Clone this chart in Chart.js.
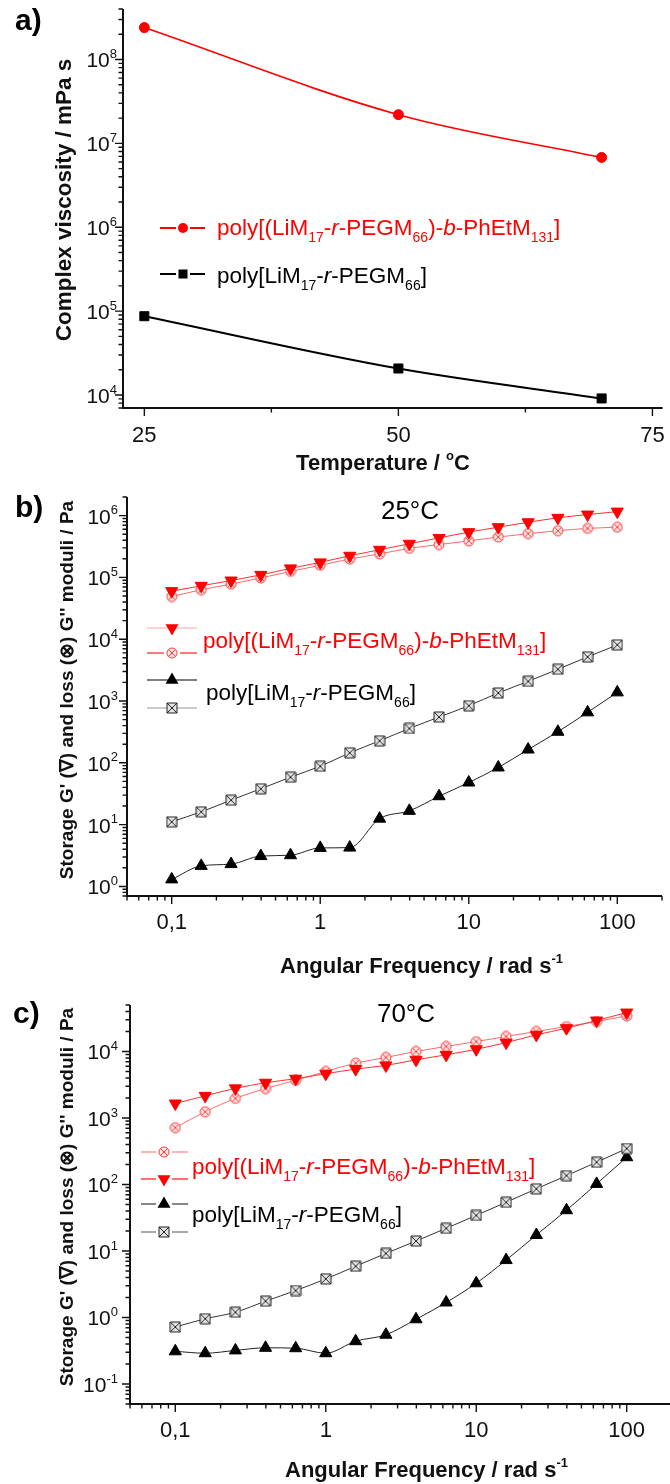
<!DOCTYPE html>
<html>
<head>
<meta charset="utf-8">
<script src="https://cdn.jsdelivr.net/npm/chart.js@4.4.1/dist/chart.umd.min.js"></script>
<style>
  html, body { margin: 0; padding: 0; background: #fff; overflow: hidden; }
  #page { position: relative; width: 670px; height: 1484px; overflow: hidden; }
  canvas { position: absolute; left: 0; }
</style>
</head>
<body>
<div id="page">
  <canvas id="chartA" width="670" height="480" style="top:0px"></canvas>
  <canvas id="chartB" width="670" height="507" style="top:478px"></canvas>
  <canvas id="chartC" width="680" height="499" style="top:985px"></canvas>
</div>
<script>
// ---- data ----
const temperature = [25, 50, 70];
const viscosityBlock = [2.4e8, 2.2e7, 6.8e6];
const viscosityRandom = [8.7e4, 2.07e4, 9.1e3];

const frequency = [0.1, 0.158, 0.251, 0.398, 0.631, 1, 1.58, 2.51, 3.98, 6.31, 10, 15.8, 25.1, 39.8, 63.1, 100];

// 25 °C
const block25Storage = [6.0e4, 7.3e4, 8.9e4, 1.1e5, 1.4e5, 1.75e5, 2.24e5, 2.8e5, 3.5e5, 4.35e5, 5.4e5, 6.5e5, 7.8e5, 9.2e5, 1.04e6, 1.16e6];
const block25Loss = [4.9e4, 6.3e4, 7.8e4, 9.8e4, 1.25e5, 1.57e5, 1.98e5, 2.4e5, 2.95e5, 3.4e5, 3.9e5, 4.5e5, 5.1e5, 5.7e5, 6.2e5, 6.5e5];
const random25Storage = [1.3, 2.15, 2.3, 3.1, 3.2, 4.2, 4.25, 12.5, 16.7, 28.8, 48, 84, 164, 318, 655, 1380];
const random25Loss = [11.1, 16.1, 24.9, 38, 58.6, 88, 145, 227, 360, 550, 840, 1350, 2080, 3260, 5170, 8100];

// 70 °C
const block70Storage = [1650, 2150, 2790, 3390, 3900, 4630, 5430, 6170, 7500, 8900, 10800, 13600, 17800, 22400, 29200, 38500];
const block70Loss = [715, 1240, 1970, 2770, 3680, 5010, 6680, 8130, 10000, 11900, 14100, 16800, 20000, 23700, 28200, 34300];
const random70Storage = [0.31, 0.29, 0.32, 0.35, 0.345, 0.29, 0.44, 0.55, 0.94, 1.68, 3.27, 7.3, 17.4, 41, 102, 257];
const random70Loss = [0.72, 0.955, 1.2, 1.76, 2.54, 3.8, 5.9, 9.2, 14.1, 21.9, 34.3, 54, 86, 136, 216, 347];

// ticks
const tempTicks = [25, 50, 75];
const tempMinorTicks = [37.5, 62.5];
const tempTickLabels = ['25', '50', '75'];
const freqTicks = [0.1, 1, 10, 100];
const freqTickLabels = ['0,1', '1', '10', '100'];
const viscosityExponents = [4, 5, 6, 7, 8];
const moduli25Exponents = [0, 1, 2, 3, 4, 5, 6];
const moduli70Exponents = [-1, 0, 1, 2, 3, 4];

// legend names (text, style)
const blockName = [['poly[(LiM'], ['17', 'sub'], ['-'], ['r', 'i'], ['-PEGM'], ['66', 'sub'], [')-'], ['b', 'i'], ['-PhEtM'], ['131', 'sub'], [']']];
const randomName = [['poly[LiM'], ['17', 'sub'], ['-'], ['r', 'i'], ['-PEGM'], ['66', 'sub'], [']']];

// ---- drawing helpers ----
const INK = '#111';
const RED = '#ff0000';
const FONT = '"Liberation Sans", Arial, sans-serif';

function partFont(mode, size, bold) {
  const small = mode === 'sub' || mode === 'sup';
  const s = small ? Math.round(size * 0.6) : size;
  return (mode === 'i' ? 'italic ' : '') + (bold ? 'bold ' : '') + s + 'px ' + FONT;
}

function drawRich(ctx, parts, x, y, size, color, bold, align) {
  ctx.save();
  ctx.fillStyle = color;
  ctx.textBaseline = 'alphabetic';
  ctx.textAlign = 'left';
  let total = 0;
  parts.forEach(p => { ctx.font = partFont(p[1], size, bold); total += ctx.measureText(p[0]).width; });
  let cx = align === 'center' ? x - total / 2 : align === 'right' ? x - total : x;
  parts.forEach(p => {
    ctx.font = partFont(p[1], size, bold);
    const dy = p[1] === 'sub' ? size * 0.3 : p[1] === 'sup' ? -size * 0.45 : 0;
    ctx.fillText(p[0], cx, y + dy);
    cx += ctx.measureText(p[0]).width;
  });
  ctx.restore();
}

function crossMarker(shape, size, stroke, fill) {
  const c = document.createElement('canvas');
  c.width = c.height = size;
  const g = c.getContext('2d');
  const m = size / 2, h = size / 2 - 1;
  g.strokeStyle = stroke; g.fillStyle = fill; g.lineWidth = 1;
  g.beginPath();
  if (shape === 'circle') g.arc(m, m, h, 0, Math.PI * 2);
  else g.rect(m - h, m - h, 2 * h, 2 * h);
  g.fill(); g.stroke();
  const d = shape === 'circle' ? h * 0.72 : h;
  g.beginPath();
  g.moveTo(m - d, m - d); g.lineTo(m + d, m + d);
  g.moveTo(m + d, m - d); g.lineTo(m - d, m + d);
  g.stroke();
  return c;
}

const redCircleX = crossMarker('circle', 12, '#ff3a3a', '#ffe4e4');
const blackSquareX = crossMarker('rect', 12, '#222', '#e4e4e4');

function logTickList(min, max) {
  const out = [];
  for (let d = Math.floor(Math.log10(min)); d <= Math.ceil(Math.log10(max)); d++) {
    for (let k = 1; k <= 9; k++) {
      const v = k * Math.pow(10, d);
      if (v >= min * 0.999 && v <= max * 1.001) out.push({ v, major: k === 1 });
    }
  }
  return out;
}

function drawLegendMarker(ctx, m, x, y) {
  ctx.save();
  ctx.fillStyle = m.color; ctx.strokeStyle = m.color; ctx.lineWidth = 1;
  if (m.kind === 'image') {
    ctx.drawImage(m.img, x - m.img.width / 2, y - m.img.height / 2);
  } else if (m.kind === 'circle') {
    ctx.beginPath(); ctx.arc(x, y, m.r, 0, Math.PI * 2); ctx.fill();
  } else if (m.kind === 'rect') {
    ctx.fillRect(x - m.r, y - m.r, 2 * m.r, 2 * m.r);
  } else {
    const s = m.kind === 'triDown' ? -1 : 1;
    const r = m.r;
    ctx.beginPath();
    ctx.moveTo(x, y - s * r);
    ctx.lineTo(x + r * 0.866, y + s * r / 2);
    ctx.lineTo(x - r * 0.866, y + s * r / 2);
    ctx.closePath(); ctx.fill();
  }
  ctx.restore();
}

// per-panel decorations: axes, tick labels, titles, legend (positions in page px)
function decorations(p) {
  return {
    id: 'decor',
    afterDraw(chart) {
      const { ctx, chartArea: a } = chart;
      const sx = chart.scales.x, sy = chart.scales.y;
      const Y = v => v - p.top;
      ctx.save();
      ctx.strokeStyle = INK;
      ctx.lineWidth = 2;
      ctx.beginPath();
      ctx.moveTo(a.left, a.top);
      ctx.lineTo(a.left, a.bottom);
      ctx.lineTo(a.right, a.bottom);
      ctx.stroke();
      ctx.lineWidth = 1.4;
      ctx.beginPath();
      p.yTicks.forEach(t => {
        const py = sy.getPixelForValue(t.v);
        ctx.moveTo(a.left, py); ctx.lineTo(a.left - (t.major ? 8 : 4.5), py);
      });
      p.xTicks.forEach(t => {
        const px = sx.getPixelForValue(t.v);
        ctx.moveTo(px, a.bottom); ctx.lineTo(px, a.bottom + (t.major ? 8 : 4.5));
      });
      ctx.stroke();

      p.yExponents.forEach(e => {
        const py = sy.getPixelForValue(Math.pow(10, e));
        drawRich(ctx, [['10'], [String(e), 'sup']], p.yLabelRight, py + 8, 21, INK, false, 'right');
      });
      p.xLabels.forEach((lab, i) => {
        drawRich(ctx, [[lab]], sx.getPixelForValue(p.xLabelValues[i]), Y(p.xLabelBase), 22, INK, false, 'center');
      });

      // axis titles
      ctx.save();
      ctx.translate(p.yTitle.x, Y(p.yTitle.y));
      ctx.rotate(-Math.PI / 2);
      drawRich(ctx, p.yTitle.parts, 0, 0, p.yTitle.size, INK, true, 'center');
      ctx.restore();
      drawRich(ctx, p.xTitle.parts, p.xTitle.x, Y(p.xTitle.y), 22, INK, true, p.xTitle.align);

      drawRich(ctx, [[p.label]], p.labelX, Y(p.labelY), 30, '#000', true, 'left');
      if (p.heading) drawRich(ctx, [[p.heading.text]], p.heading.x, Y(p.heading.y), 26, '#000', false, 'center');

      // legend
      p.legendRows.forEach(r => {
        const yy = Y(r.y);
        ctx.strokeStyle = r.line; ctx.lineWidth = r.width;
        ctx.beginPath();
        ctx.moveTo(p.legendX0, yy); ctx.lineTo(p.legendMid - r.gap, yy);
        ctx.moveTo(p.legendMid + r.gap, yy); ctx.lineTo(p.legendX1, yy);
        ctx.stroke();
        drawLegendMarker(ctx, r.marker, p.legendMid, yy);
      });
      p.legendTexts.forEach(t => drawRich(ctx, t.parts, t.x, Y(t.y), 22.5, t.color, false, 'left'));
      ctx.restore();
    }
  };
}

function series(xs, ys, color, width, extra) {
  return Object.assign({
    data: xs.map((x, i) => ({ x, y: ys[i] })),
    borderColor: color,
    borderWidth: width,
    fill: false,
    cubicInterpolationMode: 'monotone',
    pointBorderWidth: 1
  }, extra);
}

function baseOptions(xType, xMin, xMax, yMin, yMax, pad) {
  return {
    responsive: false,
    animation: false,
    devicePixelRatio: 1,
    layout: { padding: pad },
    plugins: { legend: { display: false }, tooltip: { enabled: false } },
    scales: {
      x: { type: xType, min: xMin, max: xMax, display: false },
      y: { type: 'logarithmic', min: yMin, max: yMax, display: false }
    }
  };
}

// ---- panel a ----
new Chart(document.getElementById('chartA'), {
  type: 'line',
  data: {
    datasets: [
      series(temperature, viscosityBlock, RED, 1.6, { pointStyle: 'circle', pointRadius: 5, backgroundColor: RED, pointBorderColor: RED }),
      series(temperature, viscosityRandom, '#000', 2, { pointStyle: 'rect', pointRadius: 6.4, backgroundColor: '#000', pointBorderColor: '#000' })
    ]
  },
  options: baseOptions('linear', 22.9, 76, 7e3, 4e8, { left: 123, right: 7, top: 9, bottom: 72 }),
  plugins: [decorations({
    top: 0,
    yTicks: logTickList(7e3, 4e8),
    xTicks: tempTicks.map(v => ({ v, major: true })).concat(tempMinorTicks.map(v => ({ v, major: false }))),
    yExponents: viscosityExponents, yLabelRight: 117,
    xLabels: tempTickLabels, xLabelValues: tempTicks, xLabelBase: 442,
    yTitle: { parts: [['Complex viscosity / mPa s']], x: 71, y: 200, size: 22.5 },
    xTitle: { parts: [['Temperature / '], ['o', 'sup'], ['C']], x: 383, y: 470, align: 'center' },
    label: 'a)', labelX: 15, labelY: 30,
    legendX0: 160, legendX1: 205, legendMid: 183,
    legendRows: [
      { y: 228, line: RED, width: 2, gap: 7, marker: { kind: 'circle', color: RED, r: 5 } },
      { y: 274, line: '#000', width: 2, gap: 7, marker: { kind: 'rect', color: '#000', r: 4.5 } }
    ],
    legendTexts: [
      { parts: blockName, x: 217, y: 235, color: RED },
      { parts: randomName, x: 217, y: 283, color: '#000' }
    ]
  })]
});

// ---- panel b ----
new Chart(document.getElementById('chartB'), {
  type: 'line',
  data: {
    datasets: [
      series(frequency, block25Storage, '#ff3030', 1, { pointStyle: 'triangle', pointRotation: 180, pointRadius: 7, backgroundColor: RED, pointBorderColor: RED }),
      series(frequency, block25Loss, '#ff6a6a', 1, { pointStyle: redCircleX }),
      series(frequency, random25Loss, '#333', 1, { pointStyle: blackSquareX }),
      series(frequency, random25Storage, '#222', 1, { pointStyle: 'triangle', pointRadius: 7, backgroundColor: '#000', pointBorderColor: '#000' })
    ]
  },
  options: baseOptions('logarithmic', 0.05, 200, 0.7, 2e6, { left: 127, right: 3, top: 19, bottom: 89 }),
  plugins: [decorations({
    top: 478,
    yTicks: logTickList(0.7, 2e6),
    xTicks: logTickList(0.05, 200),
    yExponents: moduli25Exponents, yLabelRight: 118,
    xLabels: freqTickLabels, xLabelValues: freqTicks, xLabelBase: 929,
    yTitle: { parts: [["Storage G' (\u2207) and loss (\u2297) G'' moduli / Pa"]], x: 73, y: 690, size: 19 },
    xTitle: { parts: [['Angular Frequency / rad s'], ['-1', 'sup']], x: 280, y: 973, align: 'left' },
    label: 'b)', labelX: 15, labelY: 517,
    heading: { text: '25°C', x: 410, y: 519 },
    legendX0: 147, legendX1: 197, legendMid: 172,
    legendRows: [
      { y: 628, line: '#ffc4c4', width: 1.5, gap: 0, marker: { kind: 'triDown', color: RED, r: 7.5 } },
      { y: 653, line: '#ff4d4d', width: 1.5, gap: 8, marker: { kind: 'image', img: redCircleX } },
      { y: 680, line: '#555', width: 1.5, gap: 0, marker: { kind: 'triUp', color: '#000', r: 7.5 } },
      { y: 708, line: '#bbb', width: 1.5, gap: 0, marker: { kind: 'image', img: blackSquareX } }
    ],
    legendTexts: [
      { parts: blockName, x: 203, y: 648, color: RED },
      { parts: randomName, x: 206, y: 700, color: '#000' }
    ]
  })]
});

// ---- panel c ----
new Chart(document.getElementById('chartC'), {
  type: 'line',
  data: {
    datasets: [
      series(frequency, block70Storage, '#ff3030', 1, { pointStyle: 'triangle', pointRotation: 180, pointRadius: 7, backgroundColor: RED, pointBorderColor: RED }),
      series(frequency, block70Loss, '#ff6a6a', 1, { pointStyle: redCircleX }),
      series(frequency, random70Loss, '#333', 1, { pointStyle: blackSquareX }),
      series(frequency, random70Storage, '#222', 1, { pointStyle: 'triangle', pointRadius: 7, backgroundColor: '#000', pointBorderColor: '#000' })
    ]
  },
  options: baseOptions('logarithmic', 0.05, 200, 0.05, 5e4, { left: 130, right: 8, top: 20, bottom: 80 }),
  plugins: [decorations({
    top: 985,
    yTicks: logTickList(0.05, 5e4),
    xTicks: logTickList(0.05, 200),
    yExponents: moduli70Exponents, yLabelRight: 118,
    xLabels: freqTickLabels, xLabelValues: freqTicks, xLabelBase: 1437,
    yTitle: { parts: [["Storage G' (\u2207) and loss (\u2297) G'' moduli / Pa"]], x: 73, y: 1197, size: 19 },
    xTitle: { parts: [['Angular Frequency / rad s'], ['-1', 'sup']], x: 285, y: 1477, align: 'left' },
    label: 'c)', labelX: 13, labelY: 1023,
    heading: { text: '70°C', x: 406, y: 1022 },
    legendX0: 141, legendX1: 188, legendMid: 164,
    legendRows: [
      { y: 1152, line: '#ff9a9a', width: 1.5, gap: 8, marker: { kind: 'image', img: redCircleX } },
      { y: 1179, line: '#ff4040', width: 1.5, gap: 8, marker: { kind: 'triDown', color: RED, r: 7.5 } },
      { y: 1204, line: '#111', width: 1.2, gap: 8, marker: { kind: 'triUp', color: '#000', r: 7.5 } },
      { y: 1232, line: '#555', width: 1.2, gap: 8, marker: { kind: 'image', img: blackSquareX } }
    ],
    legendTexts: [
      { parts: blockName, x: 192, y: 1174, color: RED },
      { parts: randomName, x: 192, y: 1222, color: '#000' }
    ]
  })]
});
</script>
</body>
</html>
